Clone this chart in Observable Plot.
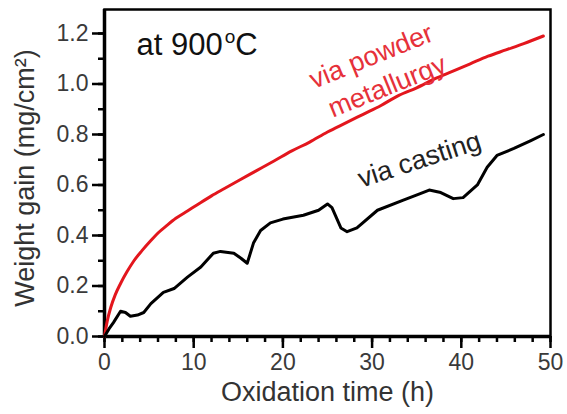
<!DOCTYPE html>
<html><head><meta charset="utf-8">
<script src="https://cdn.jsdelivr.net/npm/d3@7"></script>
<script src="https://cdn.jsdelivr.net/npm/@observablehq/plot@0.6"></script>
<style>body{margin:0;background:#fff}</style>
</head><body><div id="chart"></div>
<script>
// Series: via powder metallurgy (red)
const powderTime = [0,0.3,0.7,1.2,1.8,2.5,3.3,4.2,5.2,6,7,8,9.3,10.5,12,13.5,15,17,19,21,23,25,27,29,31,33,35,37,39,41,43,45,47,49.2];
const powderGain = [0,0.06,0.115,0.165,0.21,0.255,0.30,0.34,0.38,0.41,0.44,0.468,0.497,0.524,0.557,0.587,0.617,0.656,0.695,0.735,0.77,0.81,0.845,0.88,0.915,0.955,0.985,1.02,1.05,1.08,1.11,1.135,1.16,1.19];
// Series: via casting (black)
const castingTime = [0,0.5,1.0,1.8,2.35,2.9,3.7,4.4,5.2,6.6,7.8,9.3,10.8,12.2,13.0,14.5,15.3,16.0,16.7,17.5,18.6,20,22.3,24,25,25.5,26.5,27.2,28.3,30.6,33.5,35.4,36.4,37.7,39.1,40.2,41.8,42.9,44.0,45.9,47.8,49.2];
const castingGain = [0,0.03,0.055,0.10,0.095,0.08,0.085,0.095,0.13,0.175,0.19,0.235,0.275,0.33,0.337,0.33,0.31,0.29,0.37,0.42,0.45,0.465,0.48,0.50,0.525,0.51,0.43,0.415,0.43,0.50,0.54,0.566,0.58,0.57,0.546,0.55,0.60,0.67,0.717,0.745,0.776,0.80];
// Axis ticks
const xMajorTicks = [0,10,20,30,40,50];
const xMinorTicks = [0,2,4,6,8,10,12,14,16,18,20,22,24,26,28,30,32,34,36,38,40,42,44,46,48,50];
const yMajorTicks = [0,0.2,0.4,0.6,0.8,1.0,1.2];
const yMinorTicks = [0,0.1,0.2,0.3,0.4,0.5,0.6,0.7,0.8,0.9,1.0,1.1,1.2];
const xLabel = "Oxidation time (h)";
const yLabel = "Weight gain (mg/cm²)";
const titleText = "at 900oC";
const powderLabel = ["via powder", "metallurgy"];
const castingLabel = "via casting";

const powder = powderTime.map((t, i) => ({t, g: powderGain[i]}));
const casting = castingTime.map((t, i) => ({t, g: castingGain[i]}));

const red = "#e3161d";
const redText = "#e6313a";
const font = "'Liberation Sans', Arial, sans-serif";

const chart = Plot.plot({
  width: 567, height: 414,
  marginLeft: 104, marginRight: 17, marginTop: 9, marginBottom: 78,
  style: {fontFamily: font, background: "white", overflow: "visible"},
  x: {domain: [0, 50]},
  y: {domain: [0, 1.295]},
  marks: [
    Plot.axisX({ticks: xMinorTicks, tickSize: 6, tickFormat: () => "", label: null, strokeWidth: 2.5, stroke: "black"}),
    Plot.axisX({ticks: xMajorTicks, tickSize: 12, tickPadding: 5, fontSize: 23, label: null, strokeWidth: 2.5, stroke: "black", fill: "#3a3a3a", tickFormat: d3.format("d")}),
    Plot.axisY({ticks: yMinorTicks, tickSize: 6, tickFormat: () => "", label: null, strokeWidth: 2.5, stroke: "black"}),
    Plot.axisY({ticks: yMajorTicks, tickSize: 12, tickPadding: 4, fontSize: 23, label: null, strokeWidth: 2.5, stroke: "black", fill: "#3a3a3a", tickFormat: d3.format(".1f")}),
    Plot.frame({stroke: "black", strokeWidth: 2.5}),
    Plot.ruleX([0], {stroke: "black", strokeWidth: 3.5}),
    Plot.ruleY([0], {stroke: "black", strokeWidth: 3.5}),
    Plot.line(powder, {x: "t", y: "g", stroke: red, strokeWidth: 3, curve: "monotone-x"}),
    Plot.line(casting, {x: "t", y: "g", stroke: "black", strokeWidth: 3, curve: "linear"}),
    Plot.text([powderLabel[0]], {x: [29.9], y: [1.109], rotate: -22, fill: redText, fontSize: 27}),
    Plot.text([powderLabel[1]], {x: [31.7], y: [0.99], rotate: -22, fill: redText, fontSize: 27}),
    Plot.text([castingLabel], {x: [35.3], y: [0.70], rotate: -18, fill: "#222", fontSize: 27}),
    Plot.text([titleText], {x: [3.59], y: [1.156], textAnchor: "start", fill: "#111", fontSize: 31}),
    Plot.text([xLabel], {frameAnchor: "bottom", dy: 64, fill: "#333", fontSize: 27}),
    Plot.text([yLabel], {frameAnchor: "left", textAnchor: "middle", dx: -79, dy: 5, rotate: -90, fill: "#333", fontSize: 27})
  ]
});

// superscript "o" in the title
chart.querySelectorAll("text").forEach(el => {
  if (el.textContent === titleText) {
    el.textContent = "at 900";
    const ns = "http://www.w3.org/2000/svg";
    const sup = document.createElementNS(ns, "tspan");
    sup.setAttribute("font-size", "19");
    sup.setAttribute("dy", "-12");
    sup.setAttribute("dx", "2");
    sup.textContent = "o";
    const c = document.createElementNS(ns, "tspan");
    c.setAttribute("dy", "12");
    c.textContent = "C";
    el.appendChild(sup);
    el.appendChild(c);
  }
});

document.getElementById("chart").appendChild(chart);
</script>
</body></html>
